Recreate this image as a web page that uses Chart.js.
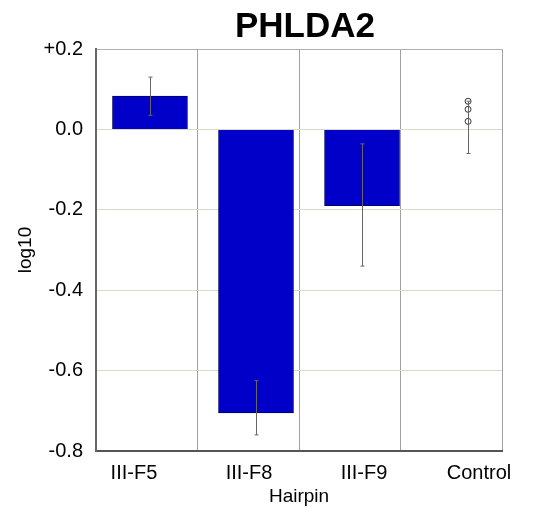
<!DOCTYPE html>
<html>
<head>
<meta charset="utf-8">
<script src="https://cdn.jsdelivr.net/npm/chart.js@4/dist/chart.umd.min.js"></script>
<style>
  body { margin: 0; background: #fff; }
  #wrap { width: 542px; height: 514px; }
</style>
</head>
<body>
<div id="wrap"><canvas id="phldaChart" width="542" height="514"></canvas></div>
<script>
// hairpins on the x axis
const categories = ['III-F5', 'III-F8', 'III-F9', 'Control'];
// bar heights (log10 mean), control has no bar
const barValues = [0.083, -0.705, -0.19, null];
// error bar ends
const errHigh = [0.13, -0.625, -0.036, 0.07];
const errLow = [0.035, -0.76, -0.34, -0.06];
// replicate points per hairpin
const repF5 = [0.065, 0.045, 0.025];
const repF8 = [-0.632, -0.655, -0.68];
const repF9 = [-0.108, -0.128, -0.158];
const repControl = [0.07, 0.05, 0.02];
const replicates = [repF5, repF8, repF9, repControl];

const FONT = "'Liberation Sans', Arial, sans-serif";

// whiskers drawn after the bars, under the replicate circles
const errorBars = {
    id: 'errorBars',
    afterDatasetDraw(chart, args) {
        if (args.index !== 0) return;
        const ctx = chart.ctx;
        const x = chart.scales.x, y = chart.scales.y;
        ctx.save();
        ctx.strokeStyle = '#666';
        ctx.lineWidth = 1;
        categories.forEach((c, i) => {
            const px = Math.round(x.getPixelForValue(i)) + 0.5;
            const yh = y.getPixelForValue(errHigh[i]);
            const yl = y.getPixelForValue(errLow[i]);
            ctx.beginPath();
            ctx.moveTo(px, yh);
            ctx.lineTo(px, yl);
            ctx.moveTo(px - 2, yh);
            ctx.lineTo(px + 2, yh);
            ctx.moveTo(px - 2, yl);
            ctx.lineTo(px + 2, yl);
            ctx.stroke();
        });
        ctx.restore();
    }
};

const chartTitle = {
    id: 'chartTitle',
    afterDraw(chart) {
        const ctx = chart.ctx;
        const area = chart.chartArea;
        ctx.save();
        ctx.font = 'bold 35px ' + FONT;
        ctx.fillStyle = '#000';
        ctx.textAlign = 'center';
        ctx.textBaseline = 'middle';
        ctx.fillText('PHLDA2', (area.left + area.right) / 2 + 6, area.top - 22);
        ctx.restore();
    }
};

const pointData = [];
replicates.forEach((reps, i) => reps.forEach(v => pointData.push({ x: i, y: v })));

const ctx = document.getElementById('phldaChart').getContext('2d');
new Chart(ctx, {
    type: 'bar',
    data: {
        datasets: [
            {
                label: 'log10',
                data: barValues.map((v, i) => ({ x: i, y: v })),
                backgroundColor: '#0000c8',
                borderColor: '#000066',
                borderWidth: 1,
                barThickness: 75,
                xAxisID: 'x',
                yAxisID: 'y'
            },
            {
                type: 'scatter',
                label: 'replicates',
                data: pointData,
                pointStyle: 'circle',
                pointRadius: 3,
                borderColor: '#333',
                borderWidth: 1,
                backgroundColor: 'rgba(0,0,0,0)',
                xAxisID: 'x',
                yAxisID: 'y'
            }
        ]
    },
    options: {
        responsive: false,
        animation: false,
        layout: { padding: { top: 49, right: 40, bottom: 0, left: 0 } },
        plugins: {
            legend: { display: false },
            tooltip: { enabled: false }
        },
        scales: {
            x: {
                type: 'linear',
                position: 'bottom',
                weight: 0,
                offset: false,
                min: -0.509,
                max: 3.32,
                ticks: { display: false },
                grid: { display: false, drawTicks: false, offset: false },
                border: { display: true, color: '#555', width: 2 },
                afterFit: (s) => { s.height = 0; }
            },
            xl: {
                type: 'linear',
                position: 'bottom',
                weight: 1,
                offset: false,
                min: -0.33,
                max: 3.2,
                afterBuildTicks: (s) => { s.ticks = categories.map((c, i) => ({ value: i })); },
                ticks: {
                    autoSkip: false,
                    maxRotation: 0,
                    padding: 10,
                    color: '#000',
                    font: { family: FONT, size: 20 },
                    callback: (v) => categories[v]
                },
                grid: { display: false, drawTicks: false, offset: false },
                border: { display: false },
                title: {
                    display: true,
                    text: 'Hairpin',
                    color: '#000',
                    font: { family: FONT, size: 19 },
                    padding: { top: 0, bottom: 6 }
                },
                afterFit: (s) => { s.height = 63; }
            },
            xg: {
                type: 'linear',
                position: 'top',
                offset: false,
                min: 0,
                max: 4,
                ticks: { display: false, stepSize: 1 },
                grid: { color: '#a0a0a0', lineWidth: 1, drawTicks: false, offset: false },
                border: { display: true, color: '#b0b0b0', width: 1 },
                afterFit: (s) => { s.height = 0; }
            },
            y: {
                position: 'left',
                min: -0.8,
                max: 0.2,
                ticks: {
                    stepSize: 0.2,
                    padding: 13,
                    color: '#000',
                    font: { family: FONT, size: 20 },
                    callback: (value) => {
                        const v = Math.round(value * 10) / 10;
                        if (v > 0) return '+' + v.toFixed(1);
                        if (v === 0) return '0.0';
                        return v.toFixed(1);
                    }
                },
                grid: { color: '#dcd8c4', lineWidth: 1, drawTicks: false },
                border: { display: true, color: '#666', width: 2 },
                title: {
                    display: true,
                    text: 'log10',
                    color: '#000',
                    font: { family: FONT, size: 19 },
                    padding: { top: 14, bottom: 0 }
                },
                afterFit: (s) => { s.width = 96; }
            }
        }
    },
    plugins: [errorBars, chartTitle]
});
</script>
</body>
</html>
